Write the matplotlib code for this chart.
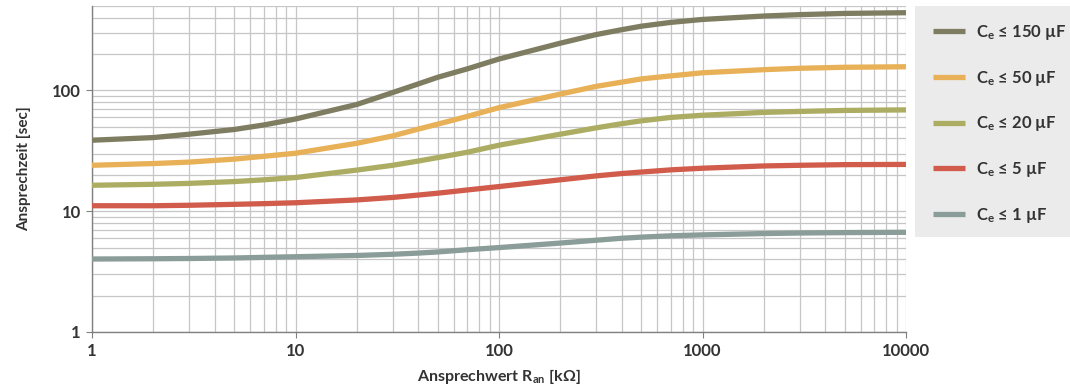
import numpy as np
import matplotlib
matplotlib.use("Agg")
import matplotlib.pyplot as plt
from matplotlib.patches import Rectangle
from matplotlib.ticker import LogLocator, NullFormatter, FixedLocator, FixedFormatter

plt.rcParams['font.family'] = ['Lato', 'DejaVu Sans']
plt.rcParams['font.weight'] = 'bold'
plt.rcParams['mathtext.fontset'] = 'custom'
plt.rcParams['mathtext.rm'] = 'Lato:bold'
plt.rcParams['mathtext.bf'] = 'Lato:bold'
plt.rcParams['mathtext.it'] = 'Lato:bold'

# Daten
r_an = [1, 2, 3, 5, 7, 10, 20, 30, 40, 50, 70, 100, 200, 300, 400, 500, 700,
        1000, 2000, 3000, 5000, 10000]
t_150 = [38.7, 40.7, 43.4, 47.5, 51.8, 58, 76.5, 96, 113, 128.5, 151, 182, 246, 290,
         318, 340, 366, 387, 413, 424, 434, 440]
t_50 = [24.0, 24.8, 25.5, 27.0, 28.5, 30.2, 36.5, 42, 47.8, 52.6, 61, 72, 93.3, 108,
        117, 124.5, 132, 140, 148.5, 152.5, 155.5, 157]
t_20 = [16.4, 16.7, 17.0, 17.6, 18.2, 19.0, 21.9, 24, 26, 27.8, 30.8, 35.2, 43.4, 49,
        53, 56, 59.8, 62.3, 65.8, 67, 68.3, 69]
t_5 = [11.1, 11.1, 11.2, 11.4, 11.55, 11.75, 12.4, 13.0, 13.6, 14.1, 15.0, 16.0, 18.2,
       19.6, 20.5, 21.1, 22.0, 22.7, 23.7, 24.0, 24.3, 24.4]
t_1 = [4.02, 4.04, 4.06, 4.1, 4.15, 4.2, 4.3, 4.4, 4.5, 4.6, 4.8, 5.0, 5.45, 5.75,
       5.97, 6.1, 6.26, 6.37, 6.53, 6.6, 6.65, 6.69]

labels = [r"C$_\mathbf{e}$ ≤ 150 µF", r"C$_\mathbf{e}$ ≤ 50 µF", r"C$_\mathbf{e}$ ≤ 20 µF",
          r"C$_\mathbf{e}$ ≤ 5 µF", r"C$_\mathbf{e}$ ≤ 1 µF"]
colors = ["#7e7d62", "#e8b057", "#acad63", "#d15c4c", "#8b9d98"]
series = [t_150, t_50, t_20, t_5, t_1]

fig = plt.figure(figsize=(10.7, 3.9), dpi=100)
ax = fig.add_axes([92 / 1070, 1 - 332 / 390, (906 - 92) / 1070, (332 - 6) / 390])

for ys, c, lab in zip(series, colors, labels):
    ax.plot(r_an, ys, color=c, lw=3.8, label=lab, solid_capstyle='butt',
            solid_joinstyle='round', zorder=3)

ax.set_xscale('log')
ax.set_yscale('log')
ax.set_xlim(1, 10000)
ax.set_ylim(1, 500)

ax.xaxis.set_major_locator(FixedLocator([1, 10, 100, 1000, 10000]))
ax.xaxis.set_major_formatter(FixedFormatter(['1', '10', '100', '1000', '10000']))
ax.yaxis.set_major_locator(FixedLocator([1, 10, 100]))
ax.yaxis.set_major_formatter(FixedFormatter(['1', '10', '100']))
ax.xaxis.set_minor_locator(LogLocator(base=10, subs=np.arange(2, 10), numticks=20))
ax.yaxis.set_minor_locator(LogLocator(base=10, subs=np.arange(2, 10), numticks=20))
ax.xaxis.set_minor_formatter(NullFormatter())
ax.yaxis.set_minor_formatter(NullFormatter())

ax.grid(True, which='both', color='#c6c6c6', lw=0.9)
ax.set_axisbelow(True)
ax.tick_params(which='major', length=4, width=0.8, color='#808080', labelsize=12,
               labelcolor='#333333', pad=4)
ax.tick_params(which='minor', length=0)
for s in ['top', 'right']:
    ax.spines[s].set_visible(False)
for s in ['left', 'bottom']:
    ax.spines[s].set_color('#808080')
    ax.spines[s].set_linewidth(1.0)

ax.set_ylabel("Ansprechzeit [sec]", fontsize=11, fontweight='bold', color='#333333',
              labelpad=15)
ax.set_xlabel(r"Ansprechwert R$_\mathbf{an}$ [kΩ]", fontsize=11.5, fontweight='bold',
              color='#333333', labelpad=6)

# Legendenkasten
fig.patches.append(Rectangle((915 / 1070, 1 - 237 / 390), 155 / 1070, 231 / 390,
                             transform=fig.transFigure, facecolor='#ebebeb',
                             edgecolor='none', zorder=0))
leg = fig.legend(loc='upper left', bbox_to_anchor=(918 / 1070, 1 - 8 / 390),
                 frameon=False, fontsize=12, handlelength=1.9, handletextpad=0.7,
                 labelspacing=1.6, borderpad=0.4)
for t in leg.get_texts():
    t.set_color('#333333')

fig.savefig("out.png", dpi=100)
